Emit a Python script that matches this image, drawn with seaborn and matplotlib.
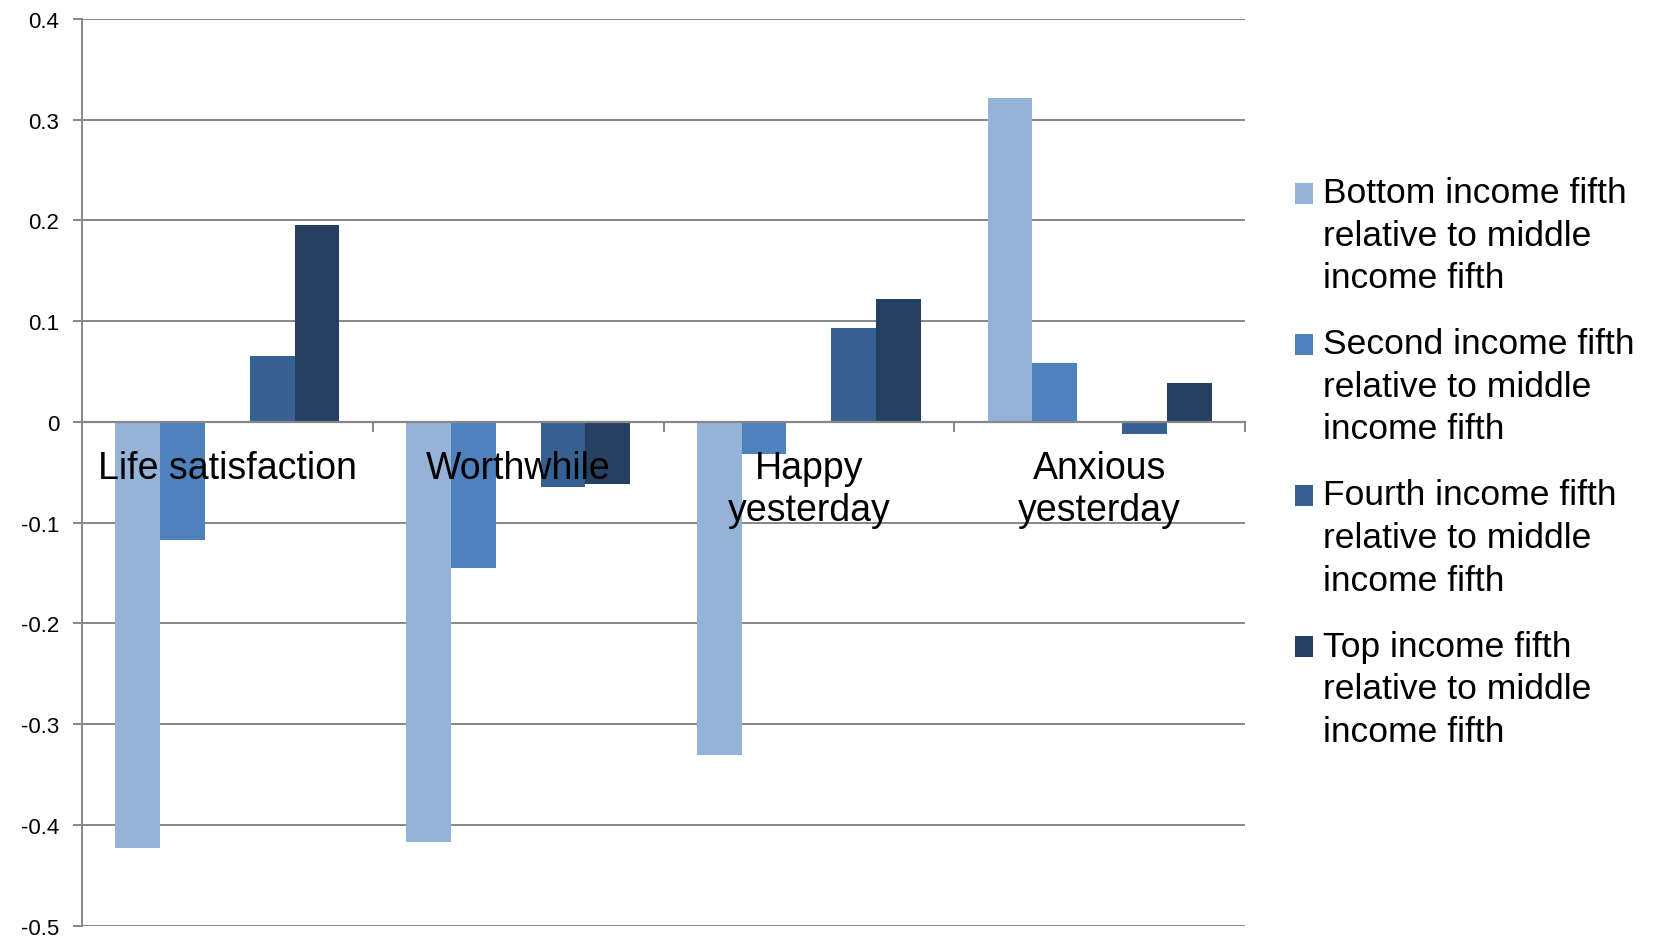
import numpy as np
import pandas as pd
import matplotlib
matplotlib.use("Agg")
import matplotlib.pyplot as plt
from matplotlib.patches import Patch, Rectangle
from matplotlib.legend_handler import HandlerPatch
import seaborn as sns

# Wellbeing gaps between income fifths and the middle income fifth
categories = ["Life satisfaction", "Worthwhile", "Happy\nyesterday", "Anxious\nyesterday"]
bottom_fifth = [-0.423, -0.417, -0.331, 0.322]
second_fifth = [-0.117, -0.145, -0.032, 0.059]
middle_fifth = [0.0, 0.0, 0.0, 0.0]          # the comparison group itself
fourth_fifth = [0.065, -0.065, 0.093, -0.012]
top_fifth = [0.196, -0.062, 0.122, 0.039]

group_names = ["Bottom", "Second", "Middle", "Fourth", "Top"]
legend_labels = [
    "Bottom income fifth\nrelative to middle\nincome fifth",
    "Second income fifth\nrelative to middle\nincome fifth",
    "Fourth income fifth\nrelative to middle\nincome fifth",
    "Top income fifth\nrelative to middle\nincome fifth",
]
colors = ["#95B3D7", "#4F81BD", "#FFFFFF", "#376092", "#254061"]
y_ticks = [0.4, 0.3, 0.2, 0.1, 0.0, -0.1, -0.2, -0.3, -0.4, -0.5]

df = pd.DataFrame({
    "measure": np.repeat(categories, 5),
    "group": group_names * 4,
    "value": np.ravel(np.column_stack(
        [bottom_fifth, second_fifth, middle_fifth, fourth_fifth, top_fifth])),
})

sns.set_style("white")
plt.rcParams["font.family"] = ["Liberation Sans", "DejaVu Sans"]
plt.rcParams["axes.unicode_minus"] = False
plt.rcParams["text.color"] = "black"

GRID = "#878787"

fig = plt.figure(figsize=(16.62, 9.37), dpi=100)
ax = fig.add_axes([82 / 1662, 1 - 926.7 / 937, (1245 - 82) / 1662, (926.7 - 20) / 937])

sns.barplot(data=df, x="measure", y="value", hue="group", order=categories,
            hue_order=group_names, palette=colors, width=0.7705, gap=0,
            saturation=1, linewidth=0, errorbar=None, legend=False, ax=ax)

ax.set_xlim(-0.5, 3.5)
ax.set_ylim(-0.5, 0.4)
ax.set_xlabel("")
ax.set_ylabel("")

# horizontal gridlines behind the bars
ax.set_axisbelow(True)
ax.yaxis.grid(True, color=GRID, linewidth=1.4)
ax.xaxis.grid(False)

for side in ("top", "right"):
    ax.spines[side].set_visible(False)
ax.spines["left"].set_color(GRID)
ax.spines["left"].set_linewidth(1.4)
ax.spines["bottom"].set_position(("data", 0))
ax.spines["bottom"].set_color(GRID)
ax.spines["bottom"].set_linewidth(1.6)
ax.spines["bottom"].set_zorder(5)

ax.set_yticks(y_ticks)
ax.set_yticklabels(["0" if v == 0 else f"{v:.1f}" for v in y_ticks])
ax.tick_params(axis="y", length=6.5, width=1.4, color=GRID, pad=10,
               labelsize=16, labelcolor="black", left=True)

# category boundary ticks on the zero line
ax.set_xticks([0.5, 1.5, 2.5, 3.5])
ax.set_xticklabels([])
ax.tick_params(axis="x", length=7.5, width=1.4, color=GRID, direction="out", bottom=True)

for i, name in enumerate(categories):
    ax.annotate(name, xy=(i, 0), xytext=(0, -20.5), textcoords="offset points",
                ha="center", va="top", multialignment="center",
                fontsize=27, color="black", linespacing=1.2, zorder=6)


class RaisedSwatch(HandlerPatch):
    """Square swatch lined up with the first line of a multi-line label."""

    def __init__(self, shift, **kw):
        super().__init__(**kw)
        self.shift = shift

    def create_artists(self, legend, orig_handle, xdescent, ydescent,
                       width, height, fontsize, trans):
        p = Rectangle((-xdescent, -ydescent + self.shift), width, height,
                      facecolor=orig_handle.get_facecolor(), edgecolor="none",
                      transform=trans)
        return [p]


legend_colors = [colors[0], colors[1], colors[3], colors[4]]
handles = [Patch(facecolor=c, edgecolor="none") for c in legend_colors]
swatch = RaisedSwatch(shift=30.5)
leg = ax.legend(handles, legend_labels, loc="upper left",
                bbox_to_anchor=(1295 / 1662, 1 - 177 / 937), bbox_transform=fig.transFigure,
                frameon=False, fontsize=25.5, handlelength=0.52, handleheight=0.52,
                handletextpad=0.28, labelspacing=0.93, borderpad=0, borderaxespad=0,
                handler_map={h: swatch for h in handles})
for t in leg.get_texts():
    t.set_linespacing(1.37)
    t.set_color("black")

fig.savefig("out.png", dpi=100, facecolor="white")
